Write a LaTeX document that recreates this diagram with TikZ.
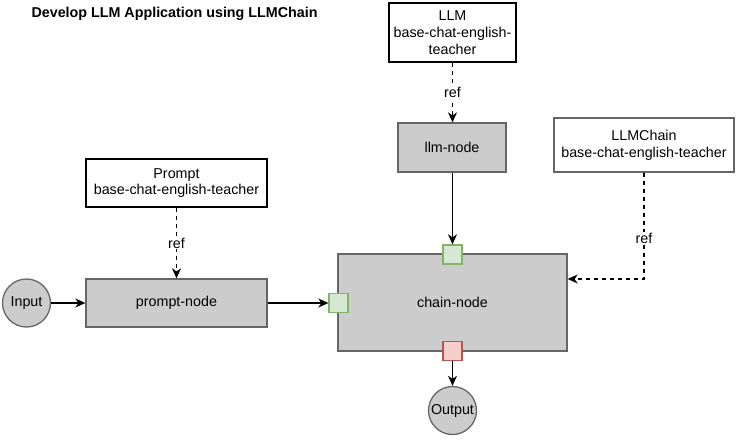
\documentclass[tikz,border=0pt]{standalone}
\usepackage{fontspec}
\setmainfont{Liberation Sans}
\usetikzlibrary{arrows.meta}
\definecolor{grayfill}{HTML}{CCCCCC}
\definecolor{graydraw}{HTML}{666666}
\definecolor{gfill}{HTML}{D5E8D4}
\definecolor{gdraw}{HTML}{82B366}
\definecolor{rfill}{HTML}{F8CECC}
\definecolor{rdraw}{HTML}{B85450}
\tikzset{
  txt/.style={font=\fontsize{14.3}{16.7}\selectfont},
  graybox/.style={txt, draw=graydraw, fill=grayfill, line width=1.3pt, inner sep=0pt, align=center},
  refbox/.style={txt, draw=black, fill=white, line width=1.3pt, inner sep=0pt, align=center},
  refboxg/.style={txt, draw=graydraw, fill=white, line width=1.3pt, inner sep=0pt, align=center},
  circ/.style={txt, circle, draw=graydraw, fill=grayfill, line width=1.3pt, inner sep=0pt, minimum size=48pt},
  portg/.style={draw=gdraw, fill=gfill, line width=1.3pt, minimum size=19pt, inner sep=0pt},
  portr/.style={draw=rdraw, fill=rfill, line width=1.3pt, minimum size=19pt, inner sep=0pt},
  flow/.style={line width=1.3pt, -{Stealth[length=10pt,width=9pt,inset=3pt]}},
  refline/.style={flow, dash pattern=on 4pt off 4pt},
  reflabel/.style={txt, fill=white, inner sep=1pt},
}
\begin{document}
\begin{tikzpicture}[x=1pt,y=-1pt]
\useasboundingbox (0,0) rectangle (737,440);
\node[font=\fontsize{14.3}{16.7}\selectfont\bfseries, anchor=west] (title) at (28,14) {Develop LLM Application using LLMChain};

\node[refbox, minimum width=181pt, minimum height=48pt] (prompt) at (176.5,183) {Prompt\\base-chat-english-teacher};
\node[graybox, minimum width=181pt, minimum height=48pt] (pnode) at (176.5,303) {prompt-node};
\node[circ] (input) at (26.5,303) {Input};

\node[refbox, minimum width=127pt, minimum height=59pt] (llm) at (452.5,32.5) {LLM\\base-chat-english-\\teacher};
\node[graybox, minimum width=108pt, minimum height=49pt] (lnode) at (452,147.5) {llm-node};

\node[refboxg, minimum width=180pt, minimum height=54pt] (chainref) at (644,145) {LLMChain\\base-chat-english-teacher};

\node[graybox, minimum width=229pt, minimum height=97pt] (cnode) at (452.5,302.5) {chain-node};
\node[portg] (pleft) at (338.5,303) {};
\node[portg] (ptop) at (452.5,254.5) {};
\node[portr] (pbot) at (452.5,351) {};
\node[circ] (output) at (452.5,410.5) {Output};

\coordinate (cin) at (cnode.east |- 0,279);

\draw[flow] (input) -- (pnode);
\draw[flow] (pnode) -- (pleft);
\draw[flow] (lnode.south -| ptop) -- (ptop);
\draw[flow] (pbot) -- (output);
\draw[refline] (prompt) -- node[reflabel] {ref} (pnode);
\draw[refline] (llm) -- node[reflabel] {ref} (llm |- lnode.north);
\draw[refline] (chainref.south) |- node[reflabel, pos=0.31] {ref} (cin);
\end{tikzpicture}
\end{document}
